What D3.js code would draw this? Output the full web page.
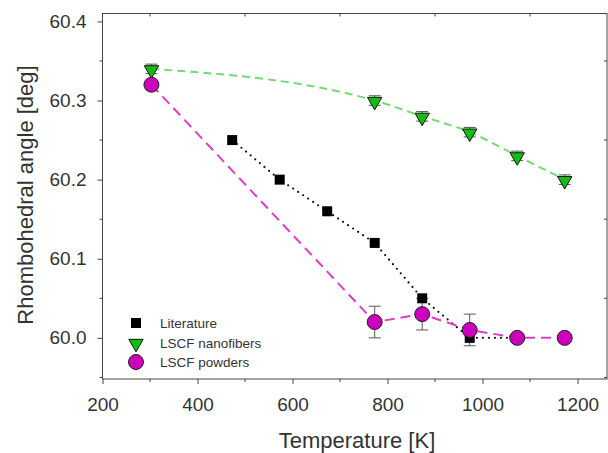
<!DOCTYPE html>
<html>
<head>
<meta charset="utf-8">
<script src="https://cdn.jsdelivr.net/npm/d3@7"></script>
<style>
  body { margin: 0; background: #fff; }
  text { font-family: "Liberation Sans", Arial, sans-serif; fill: #333; }
</style>
</head>
<body>
<div id="container"></div>
<script>
// data
const litTemp = [473, 573, 673, 773, 873, 973, 1073];
const litAngle = [60.25, 60.20, 60.16, 60.12, 60.05, 60.00, 60.00];

const fibTemp = [303, 773, 873, 973, 1073, 1173];
const fibAngle = [60.34, 60.30, 60.28, 60.26, 60.23, 60.20];
const fibErr = [0.006, 0.006, 0.006, 0.006, 0.006, 0.006];

const powTemp = [303, 773, 873, 973, 1073, 1173];
const powAngle = [60.32, 60.02, 60.03, 60.01, 60.00, 60.00];
const powErr = [0, 0.02, 0.02, 0.02, 0, 0];

const xTicks = [200, 400, 600, 800, 1000, 1200];
const yTicks = [60.0, 60.1, 60.2, 60.3, 60.4];

const legendLabels = ["Literature", "LSCF nanofibers", "LSCF powders"];

const W = 608, H = 453;
const pLeft = 102.5, pRight = 607, pTop = 13.5, pBottom = 379;

const svg = d3.select('#container')
    .append('svg')
    .attr('width', W)
    .attr('height', H);

const x = d3.scaleLinear().domain([200, 1262]).range([pLeft, pRight]);
const y = d3.scaleLinear().domain([59.948, 60.41]).range([pBottom, pTop]);

// frame
svg.append('rect')
    .attr('x', pLeft).attr('y', pTop)
    .attr('width', pRight - pLeft).attr('height', pBottom - pTop)
    .attr('fill', 'none').attr('stroke', '#444').attr('stroke-width', 1);

// bottom axis
const xAxis = svg.append('g')
    .attr('transform', `translate(0,${pBottom})`)
    .call(d3.axisBottom(x).tickValues(xTicks).tickSize(5).tickPadding(14).tickFormat(d3.format('d')));
xAxis.select('.domain').remove();
xAxis.selectAll('line').attr('stroke', '#444');
xAxis.selectAll('text').style('font-size', '19px').attr('fill', '#333');

svg.append('g')
    .attr('transform', `translate(0,${pBottom})`)
    .selectAll('line')
    .data(d3.range(300, 1262, 200))
    .enter().append('line')
    .attr('x1', d => x(d)).attr('x2', d => x(d))
    .attr('y1', 0).attr('y2', 3)
    .attr('stroke', '#444');

// top ticks (inward)
svg.append('g')
    .selectAll('line')
    .data(d3.range(300, 1262, 200))
    .enter().append('line')
    .attr('x1', d => x(d)).attr('x2', d => x(d))
    .attr('y1', pTop).attr('y2', pTop + 3)
    .attr('stroke', '#444');

// left axis
const yAxis = svg.append('g')
    .attr('transform', `translate(${pLeft},0)`)
    .call(d3.axisLeft(y).tickValues(yTicks).tickSize(5).tickPadding(11).tickFormat(d3.format('.1f')));
yAxis.select('.domain').remove();
yAxis.selectAll('line').attr('stroke', '#444');
yAxis.selectAll('text').style('font-size', '19px').attr('fill', '#333');

const yMinor = [59.95, 60.05, 60.15, 60.25, 60.35];
svg.append('g')
    .selectAll('line')
    .data(yMinor)
    .enter().append('line')
    .attr('x1', pLeft - 3).attr('x2', pLeft)
    .attr('y1', d => y(d)).attr('y2', d => y(d))
    .attr('stroke', '#444');

// right ticks (inward)
svg.append('g')
    .selectAll('line')
    .data(yMinor)
    .enter().append('line')
    .attr('x1', pRight - 3).attr('x2', pRight)
    .attr('y1', d => y(d)).attr('y2', d => y(d))
    .attr('stroke', '#444');

// axis titles
svg.append('text')
    .attr('x', 357).attr('y', 448)
    .attr('text-anchor', 'middle')
    .style('font-size', '22px')
    .text('Temperature [K]');

svg.append('text')
    .attr('transform', 'translate(33,195) rotate(-90)')
    .attr('text-anchor', 'middle')
    .style('font-size', '22px')
    .text('Rhombohedral angle [deg]');

const lit = litTemp.map((t, i) => ({ t: t, a: litAngle[i] }));
const fib = fibTemp.map((t, i) => ({ t: t, a: fibAngle[i], e: fibErr[i] }));
const pow = powTemp.map((t, i) => ({ t: t, a: powAngle[i], e: powErr[i] }));

// lines
svg.append('path')
    .datum(fib)
    .attr('d', d3.line().x(d => x(d.t)).y(d => y(d.a)).curve(d3.curveMonotoneX))
    .attr('fill', 'none')
    .attr('stroke', '#72dc72')
    .attr('stroke-width', 2)
    .attr('stroke-dasharray', '8,5');

svg.append('path')
    .datum(lit)
    .attr('d', d3.line().x(d => x(d.t)).y(d => y(d.a)))
    .attr('fill', 'none')
    .attr('stroke', '#111')
    .attr('stroke-width', 2.2)
    .attr('stroke-linecap', 'round')
    .attr('stroke-dasharray', '0,6');

svg.append('path')
    .datum(pow)
    .attr('d', d3.line().x(d => x(d.t)).y(d => y(d.a)))
    .attr('fill', 'none')
    .attr('stroke', '#e03cc8')
    .attr('stroke-width', 2)
    .attr('stroke-dasharray', '10,6');

// error bars
function errBars(data, cls) {
    const g = svg.append('g').attr('class', cls);
    const withErr = data.filter(d => d.e > 0);
    g.selectAll('line.v')
        .data(withErr).enter().append('line')
        .attr('x1', d => x(d.t)).attr('x2', d => x(d.t))
        .attr('y1', d => y(d.a - d.e)).attr('y2', d => y(d.a + d.e))
        .attr('stroke', '#555').attr('stroke-width', 1);
    [-1, 1].forEach(s => {
        g.selectAll('line.c' + (s > 0 ? 'p' : 'm'))
            .data(withErr).enter().append('line')
            .attr('x1', d => x(d.t) - 6).attr('x2', d => x(d.t) + 6)
            .attr('y1', d => y(d.a + s * d.e)).attr('y2', d => y(d.a + s * d.e))
            .attr('stroke', '#555').attr('stroke-width', 1);
    });
}
errBars(fib, 'fibErr');
errBars(pow, 'powErr');

// markers
svg.append('g')
    .selectAll('rect')
    .data(lit)
    .enter().append('rect')
    .attr('x', d => x(d.t) - 5).attr('y', d => y(d.a) - 5)
    .attr('width', 10).attr('height', 10)
    .attr('fill', '#000');

const tri = d3.symbol().type(d3.symbolTriangle).size(90);
svg.append('g')
    .selectAll('path')
    .data(fib)
    .enter().append('path')
    .attr('d', tri)
    .attr('transform', d => `translate(${x(d.t)},${y(d.a) + 1}) rotate(180)`)
    .attr('fill', '#10c010')
    .attr('stroke', '#111')
    .attr('stroke-width', 1);

svg.append('g')
    .selectAll('circle')
    .data(pow)
    .enter().append('circle')
    .attr('cx', d => x(d.t)).attr('cy', d => y(d.a))
    .attr('r', 7.5)
    .attr('fill', '#cc00bb')
    .attr('stroke', '#222')
    .attr('stroke-width', 1);

// legend
const leg = svg.append('g').attr('transform', 'translate(136,323)');
const rowGap = 19.5;
leg.append('rect').attr('x', -5).attr('y', -5).attr('width', 10).attr('height', 10).attr('fill', '#000');
leg.append('path').attr('d', tri)
    .attr('transform', `translate(0,${rowGap + 1}) rotate(180)`)
    .attr('fill', '#10c010').attr('stroke', '#111');
leg.append('circle').attr('cx', 0).attr('cy', rowGap * 2).attr('r', 7.5)
    .attr('fill', '#cc00bb').attr('stroke', '#222');
leg.selectAll('text')
    .data(legendLabels)
    .enter().append('text')
    .attr('x', 24)
    .attr('y', (d, i) => i * rowGap + 5)
    .style('font-size', '13.5px')
    .text(d => d);
</script>
</body>
</html>
